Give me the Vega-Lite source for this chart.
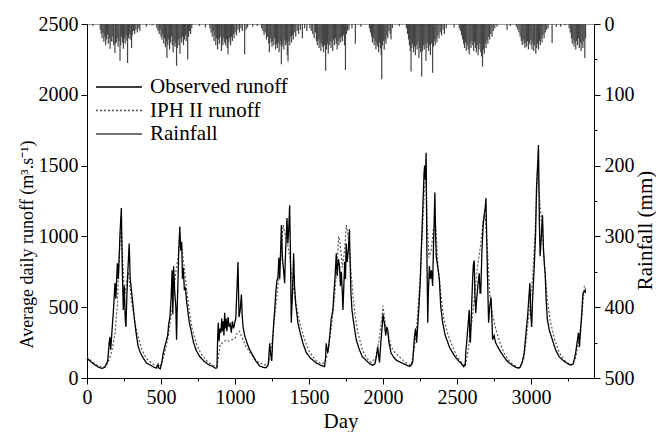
{
"$schema":"https://vega.github.io/schema/vega-lite/v6.json",
"width":507,"height":354,
"autosize":{"type":"none"},
"padding":{"left":87,"top":24,"right":62,"bottom":54},
"config":{"font":"Liberation Serif","view":{"stroke":"#999","strokeWidth":1},
"axis":{"domainColor":"#000","tickColor":"#000","labelColor":"#000","titleColor":"#000","labelFontSize":20,"titleFontSize":21,"titleFontWeight":"normal","grid":false,"labelFont":"Liberation Serif","titleFont":"Liberation Serif","format":"d"},
"legend":{"labelFont":"Liberation Serif","labelFontSize":21,"labelColor":"#000"}},
"datasets":{
"obs":[{"d":0,"v":140},{"d":20,"v":120},{"d":50,"v":95},{"d":80,"v":75},{"d":100,"v":68},{"d":120,"v":75},{"d":140,"v":120},{"d":150,"v":250},{"d":155,"v":290},{"d":160,"v":200},{"d":170,"v":350},{"d":180,"v":500},{"d":189,"v":670},{"d":195,"v":560},{"d":205,"v":810},{"d":212,"v":700},{"d":223,"v":1020},{"d":232,"v":1200},{"d":238,"v":800},{"d":245,"v":480},{"d":252,"v":650},{"d":258,"v":420},{"d":263,"v":360},{"d":270,"v":600},{"d":278,"v":800},{"d":285,"v":950},{"d":292,"v":700},{"d":300,"v":620},{"d":312,"v":500},{"d":320,"v":420},{"d":330,"v":330},{"d":346,"v":220},{"d":360,"v":180},{"d":380,"v":140},{"d":402,"v":106},{"d":430,"v":90},{"d":455,"v":75},{"d":470,"v":70},{"d":480,"v":95},{"d":485,"v":70},{"d":495,"v":65},{"d":505,"v":110},{"d":515,"v":175},{"d":525,"v":220},{"d":535,"v":260},{"d":545,"v":300},{"d":552,"v":380},{"d":560,"v":430},{"d":568,"v":560},{"d":575,"v":760},{"d":580,"v":450},{"d":585,"v":790},{"d":592,"v":620},{"d":600,"v":500},{"d":605,"v":270},{"d":610,"v":520},{"d":615,"v":700},{"d":620,"v":900},{"d":627,"v":1070},{"d":633,"v":900},{"d":640,"v":960},{"d":645,"v":700},{"d":650,"v":780},{"d":658,"v":620},{"d":665,"v":640},{"d":672,"v":550},{"d":680,"v":480},{"d":690,"v":400},{"d":706,"v":320},{"d":720,"v":250},{"d":740,"v":190},{"d":762,"v":150},{"d":790,"v":120},{"d":820,"v":95},{"d":852,"v":80},{"d":870,"v":68},{"d":878,"v":72},{"d":883,"v":300},{"d":887,"v":390},{"d":892,"v":260},{"d":898,"v":350},{"d":905,"v":320},{"d":910,"v":420},{"d":915,"v":330},{"d":920,"v":400},{"d":925,"v":300},{"d":930,"v":460},{"d":935,"v":350},{"d":940,"v":420},{"d":945,"v":330},{"d":953,"v":430},{"d":960,"v":360},{"d":968,"v":380},{"d":975,"v":320},{"d":982,"v":400},{"d":990,"v":350},{"d":998,"v":390},{"d":1005,"v":420},{"d":1012,"v":600},{"d":1020,"v":820},{"d":1024,"v":600},{"d":1027,"v":430},{"d":1035,"v":480},{"d":1043,"v":590},{"d":1048,"v":450},{"d":1054,"v":360},{"d":1065,"v":300},{"d":1080,"v":250},{"d":1099,"v":200},{"d":1120,"v":160},{"d":1140,"v":120},{"d":1166,"v":85},{"d":1190,"v":75},{"d":1210,"v":72},{"d":1225,"v":95},{"d":1234,"v":245},{"d":1240,"v":180},{"d":1248,"v":120},{"d":1255,"v":280},{"d":1262,"v":400},{"d":1268,"v":480},{"d":1275,"v":600},{"d":1282,"v":680},{"d":1290,"v":715},{"d":1296,"v":850},{"d":1302,"v":700},{"d":1308,"v":900},{"d":1313,"v":1080},{"d":1320,"v":850},{"d":1328,"v":760},{"d":1335,"v":670},{"d":1340,"v":850},{"d":1346,"v":1000},{"d":1351,"v":1130},{"d":1357,"v":950},{"d":1363,"v":1050},{"d":1369,"v":1220},{"d":1374,"v":900},{"d":1380,"v":390},{"d":1386,"v":550},{"d":1391,"v":700},{"d":1396,"v":880},{"d":1402,"v":650},{"d":1410,"v":520},{"d":1418,"v":450},{"d":1425,"v":390},{"d":1440,"v":320},{"d":1460,"v":240},{"d":1481,"v":180},{"d":1510,"v":140},{"d":1549,"v":106},{"d":1580,"v":90},{"d":1605,"v":80},{"d":1612,"v":150},{"d":1616,"v":245},{"d":1622,"v":200},{"d":1628,"v":180},{"d":1640,"v":300},{"d":1650,"v":420},{"d":1661,"v":480},{"d":1668,"v":600},{"d":1675,"v":700},{"d":1684,"v":880},{"d":1690,"v":720},{"d":1698,"v":840},{"d":1706,"v":790},{"d":1712,"v":650},{"d":1718,"v":750},{"d":1724,"v":620},{"d":1729,"v":480},{"d":1735,"v":650},{"d":1741,"v":820},{"d":1746,"v":700},{"d":1751,"v":950},{"d":1758,"v":820},{"d":1765,"v":900},{"d":1773,"v":1050},{"d":1778,"v":800},{"d":1783,"v":600},{"d":1790,"v":480},{"d":1800,"v":400},{"d":1810,"v":330},{"d":1819,"v":270},{"d":1840,"v":200},{"d":1860,"v":150},{"d":1886,"v":125},{"d":1910,"v":100},{"d":1931,"v":90},{"d":1945,"v":100},{"d":1955,"v":150},{"d":1964,"v":220},{"d":1970,"v":160},{"d":1976,"v":110},{"d":1985,"v":250},{"d":1995,"v":380},{"d":2000,"v":450},{"d":2003,"v":420},{"d":2010,"v":380},{"d":2018,"v":300},{"d":2025,"v":360},{"d":2032,"v":340},{"d":2040,"v":250},{"d":2054,"v":176},{"d":2070,"v":150},{"d":2090,"v":125},{"d":2110,"v":115},{"d":2140,"v":100},{"d":2178,"v":82},{"d":2190,"v":90},{"d":2200,"v":110},{"d":2206,"v":200},{"d":2212,"v":290},{"d":2220,"v":350},{"d":2227,"v":250},{"d":2235,"v":380},{"d":2245,"v":550},{"d":2252,"v":700},{"d":2258,"v":900},{"d":2265,"v":1100},{"d":2272,"v":1300},{"d":2277,"v":1450},{"d":2281,"v":1500},{"d":2286,"v":1400},{"d":2291,"v":1590},{"d":2296,"v":900},{"d":2302,"v":390},{"d":2306,"v":600},{"d":2313,"v":790},{"d":2320,"v":700},{"d":2327,"v":760},{"d":2335,"v":650},{"d":2340,"v":900},{"d":2345,"v":1100},{"d":2350,"v":1310},{"d":2355,"v":1000},{"d":2360,"v":850},{"d":2370,"v":780},{"d":2380,"v":700},{"d":2390,"v":500},{"d":2403,"v":390},{"d":2420,"v":300},{"d":2448,"v":220},{"d":2480,"v":160},{"d":2510,"v":120},{"d":2526,"v":106},{"d":2545,"v":80},{"d":2555,"v":100},{"d":2560,"v":200},{"d":2565,"v":250},{"d":2570,"v":320},{"d":2576,"v":400},{"d":2582,"v":480},{"d":2586,"v":300},{"d":2590,"v":250},{"d":2595,"v":400},{"d":2600,"v":550},{"d":2605,"v":700},{"d":2610,"v":800},{"d":2616,"v":830},{"d":2620,"v":600},{"d":2626,"v":460},{"d":2632,"v":550},{"d":2640,"v":650},{"d":2650,"v":740},{"d":2655,"v":600},{"d":2660,"v":600},{"d":2668,"v":900},{"d":2677,"v":1090},{"d":2683,"v":1150},{"d":2690,"v":1200},{"d":2695,"v":1270},{"d":2700,"v":1000},{"d":2706,"v":700},{"d":2713,"v":390},{"d":2720,"v":500},{"d":2729,"v":570},{"d":2735,"v":420},{"d":2740,"v":270},{"d":2750,"v":300},{"d":2760,"v":250},{"d":2785,"v":200},{"d":2810,"v":160},{"d":2830,"v":130},{"d":2852,"v":106},{"d":2880,"v":85},{"d":2908,"v":70},{"d":2925,"v":75},{"d":2940,"v":110},{"d":2953,"v":176},{"d":2960,"v":250},{"d":2968,"v":350},{"d":2976,"v":430},{"d":2984,"v":550},{"d":2992,"v":670},{"d":2998,"v":450},{"d":3004,"v":360},{"d":3010,"v":550},{"d":3021,"v":780},{"d":3030,"v":1000},{"d":3037,"v":1350},{"d":3044,"v":1500},{"d":3050,"v":1645},{"d":3056,"v":1100},{"d":3061,"v":860},{"d":3068,"v":980},{"d":3077,"v":1150},{"d":3084,"v":900},{"d":3090,"v":800},{"d":3095,"v":740},{"d":3102,"v":550},{"d":3110,"v":410},{"d":3125,"v":330},{"d":3144,"v":270},{"d":3165,"v":200},{"d":3190,"v":150},{"d":3220,"v":120},{"d":3250,"v":100},{"d":3268,"v":92},{"d":3285,"v":100},{"d":3300,"v":170},{"d":3313,"v":268},{"d":3320,"v":320},{"d":3327,"v":220},{"d":3335,"v":350},{"d":3342,"v":450},{"d":3348,"v":560},{"d":3351,"v":600},{"d":3358,"v":610},{"d":3365,"v":620},{"d":3368,"v":600}],
"iph":[{"d":0,"v":150},{"d":30,"v":120},{"d":60,"v":95},{"d":90,"v":80},{"d":110,"v":75},{"d":130,"v":85},{"d":150,"v":130},{"d":170,"v":200},{"d":190,"v":320},{"d":205,"v":520},{"d":215,"v":800},{"d":225,"v":1000},{"d":232,"v":1050},{"d":240,"v":850},{"d":250,"v":650},{"d":260,"v":600},{"d":270,"v":700},{"d":280,"v":750},{"d":290,"v":650},{"d":300,"v":550},{"d":315,"v":450},{"d":330,"v":360},{"d":350,"v":270},{"d":375,"v":190},{"d":400,"v":140},{"d":430,"v":110},{"d":460,"v":90},{"d":490,"v":80},{"d":510,"v":120},{"d":530,"v":200},{"d":550,"v":300},{"d":570,"v":450},{"d":585,"v":600},{"d":600,"v":750},{"d":615,"v":850},{"d":627,"v":1000},{"d":640,"v":920},{"d":655,"v":800},{"d":670,"v":650},{"d":690,"v":480},{"d":710,"v":350},{"d":740,"v":240},{"d":770,"v":170},{"d":810,"v":120},{"d":850,"v":90},{"d":880,"v":85},{"d":900,"v":240},{"d":920,"v":250},{"d":940,"v":270},{"d":960,"v":260},{"d":980,"v":270},{"d":1000,"v":280},{"d":1015,"v":320},{"d":1030,"v":330},{"d":1050,"v":280},{"d":1070,"v":230},{"d":1100,"v":180},{"d":1130,"v":140},{"d":1160,"v":110},{"d":1200,"v":90},{"d":1230,"v":110},{"d":1250,"v":250},{"d":1270,"v":450},{"d":1290,"v":650},{"d":1310,"v":850},{"d":1325,"v":1080},{"d":1340,"v":1000},{"d":1355,"v":950},{"d":1370,"v":850},{"d":1385,"v":700},{"d":1400,"v":600},{"d":1420,"v":480},{"d":1440,"v":380},{"d":1470,"v":270},{"d":1500,"v":190},{"d":1540,"v":130},{"d":1580,"v":100},{"d":1610,"v":110},{"d":1630,"v":200},{"d":1650,"v":350},{"d":1670,"v":550},{"d":1690,"v":800},{"d":1700,"v":1000},{"d":1710,"v":950},{"d":1725,"v":780},{"d":1740,"v":900},{"d":1752,"v":1080},{"d":1765,"v":1000},{"d":1780,"v":800},{"d":1795,"v":600},{"d":1810,"v":450},{"d":1830,"v":320},{"d":1860,"v":200},{"d":1890,"v":140},{"d":1920,"v":110},{"d":1950,"v":140},{"d":1970,"v":250},{"d":1990,"v":400},{"d":2000,"v":510},{"d":2015,"v":380},{"d":2035,"v":300},{"d":2055,"v":220},{"d":2080,"v":180},{"d":2110,"v":150},{"d":2140,"v":120},{"d":2170,"v":100},{"d":2190,"v":90},{"d":2210,"v":200},{"d":2230,"v":400},{"d":2250,"v":700},{"d":2265,"v":1000},{"d":2278,"v":1300},{"d":2288,"v":1450},{"d":2298,"v":1100},{"d":2310,"v":850},{"d":2325,"v":900},{"d":2340,"v":1050},{"d":2355,"v":1100},{"d":2370,"v":800},{"d":2390,"v":600},{"d":2410,"v":420},{"d":2440,"v":300},{"d":2470,"v":220},{"d":2500,"v":150},{"d":2530,"v":110},{"d":2555,"v":80},{"d":2575,"v":200},{"d":2600,"v":400},{"d":2620,"v":600},{"d":2640,"v":800},{"d":2660,"v":950},{"d":2675,"v":1100},{"d":2690,"v":1150},{"d":2705,"v":900},{"d":2720,"v":600},{"d":2740,"v":450},{"d":2760,"v":350},{"d":2790,"v":250},{"d":2820,"v":170},{"d":2860,"v":110},{"d":2900,"v":80},{"d":2920,"v":70},{"d":2950,"v":130},{"d":2970,"v":300},{"d":2990,"v":500},{"d":3010,"v":700},{"d":3030,"v":1100},{"d":3045,"v":1500},{"d":3058,"v":1250},{"d":3075,"v":1050},{"d":3090,"v":800},{"d":3110,"v":550},{"d":3130,"v":400},{"d":3160,"v":270},{"d":3190,"v":180},{"d":3230,"v":120},{"d":3270,"v":90},{"d":3300,"v":140},{"d":3320,"v":250},{"d":3340,"v":400},{"d":3360,"v":650},{"d":3368,"v":630}],
"rain":[{"d":40,"r":3},{"d":90,"r":8},{"d":96,"r":14},{"d":102,"r":20},{"d":108,"r":12},{"d":114,"r":25},{"d":120,"r":18},{"d":126,"r":30},{"d":132,"r":22},{"d":138,"r":15},{"d":144,"r":28},{"d":150,"r":20},{"d":156,"r":35},{"d":162,"r":24},{"d":168,"r":25},{"d":174,"r":18},{"d":180,"r":30},{"d":189,"r":41},{"d":192,"r":28},{"d":198,"r":26},{"d":204,"r":20},{"d":210,"r":32},{"d":216,"r":24},{"d":223,"r":52},{"d":228,"r":30},{"d":234,"r":18},{"d":240,"r":26},{"d":246,"r":35},{"d":252,"r":20},{"d":258,"r":28},{"d":264,"r":16},{"d":270,"r":24},{"d":274,"r":55},{"d":280,"r":20},{"d":286,"r":14},{"d":292,"r":22},{"d":301,"r":34},{"d":306,"r":16},{"d":314,"r":10},{"d":322,"r":14},{"d":330,"r":8},{"d":340,"r":12},{"d":350,"r":6},{"d":357,"r":10},{"d":400,"r":4},{"d":440,"r":2},
{"d":472,"r":6},{"d":480,"r":10},{"d":488,"r":14},{"d":494,"r":8},{"d":500,"r":18},{"d":506,"r":22},{"d":512,"r":15},{"d":518,"r":28},{"d":524,"r":20},{"d":530,"r":33},{"d":536,"r":24},{"d":540,"r":48},{"d":546,"r":30},{"d":552,"r":22},{"d":558,"r":36},{"d":564,"r":26},{"d":570,"r":18},{"d":576,"r":30},{"d":582,"r":40},{"d":588,"r":24},{"d":594,"r":32},{"d":600,"r":28},{"d":605,"r":59},{"d":610,"r":34},{"d":616,"r":22},{"d":622,"r":30},{"d":628,"r":42},{"d":634,"r":20},{"d":640,"r":26},{"d":646,"r":18},{"d":652,"r":30},{"d":658,"r":22},{"d":664,"r":16},{"d":670,"r":24},{"d":676,"r":14},{"d":680,"r":50},{"d":686,"r":18},{"d":692,"r":10},{"d":700,"r":14},{"d":708,"r":6},{"d":760,"r":3},{"d":800,"r":5},
{"d":830,"r":6},{"d":838,"r":12},{"d":846,"r":18},{"d":852,"r":10},{"d":858,"r":24},{"d":864,"r":16},{"d":870,"r":30},{"d":876,"r":20},{"d":882,"r":36},{"d":888,"r":22},{"d":894,"r":28},{"d":900,"r":18},{"d":908,"r":38},{"d":912,"r":24},{"d":918,"r":30},{"d":924,"r":20},{"d":930,"r":26},{"d":936,"r":30},{"d":942,"r":22},{"d":948,"r":34},{"d":953,"r":43},{"d":958,"r":26},{"d":964,"r":20},{"d":970,"r":30},{"d":976,"r":18},{"d":982,"r":24},{"d":988,"r":14},{"d":994,"r":20},{"d":1000,"r":12},{"d":1010,"r":16},{"d":1020,"r":8},{"d":1030,"r":12},{"d":1040,"r":6},{"d":1050,"r":10},{"d":1065,"r":43},{"d":1075,"r":8},{"d":1085,"r":5},{"d":1120,"r":4},{"d":1150,"r":3},
{"d":1180,"r":6},{"d":1188,"r":10},{"d":1196,"r":16},{"d":1204,"r":12},{"d":1212,"r":22},{"d":1220,"r":18},{"d":1228,"r":28},{"d":1232,"r":40},{"d":1238,"r":20},{"d":1244,"r":26},{"d":1250,"r":32},{"d":1256,"r":24},{"d":1262,"r":30},{"d":1268,"r":20},{"d":1274,"r":36},{"d":1280,"r":28},{"d":1286,"r":34},{"d":1292,"r":26},{"d":1298,"r":40},{"d":1304,"r":30},{"d":1310,"r":24},{"d":1313,"r":57},{"d":1318,"r":32},{"d":1324,"r":28},{"d":1330,"r":36},{"d":1336,"r":22},{"d":1342,"r":30},{"d":1348,"r":26},{"d":1353,"r":44},{"d":1358,"r":53},{"d":1364,"r":24},{"d":1370,"r":30},{"d":1376,"r":18},{"d":1382,"r":26},{"d":1388,"r":16},{"d":1394,"r":22},{"d":1400,"r":12},{"d":1410,"r":18},{"d":1420,"r":10},{"d":1430,"r":14},{"d":1442,"r":8},{"d":1455,"r":20},{"d":1470,"r":6},{"d":1485,"r":10},
{"d":1505,"r":6},{"d":1515,"r":10},{"d":1525,"r":14},{"d":1535,"r":20},{"d":1543,"r":12},{"d":1550,"r":24},{"d":1556,"r":30},{"d":1562,"r":22},{"d":1568,"r":34},{"d":1574,"r":26},{"d":1580,"r":38},{"d":1586,"r":28},{"d":1592,"r":32},{"d":1598,"r":40},{"d":1604,"r":30},{"d":1612,"r":66},{"d":1618,"r":36},{"d":1624,"r":28},{"d":1630,"r":42},{"d":1636,"r":30},{"d":1642,"r":24},{"d":1648,"r":34},{"d":1654,"r":26},{"d":1660,"r":38},{"d":1666,"r":22},{"d":1672,"r":30},{"d":1678,"r":20},{"d":1684,"r":28},{"d":1690,"r":36},{"d":1696,"r":24},{"d":1702,"r":30},{"d":1708,"r":20},{"d":1714,"r":26},{"d":1720,"r":18},{"d":1726,"r":24},{"d":1732,"r":16},{"d":1740,"r":30},{"d":1746,"r":65},{"d":1752,"r":14},{"d":1760,"r":10},{"d":1770,"r":8},{"d":1790,"r":6},{"d":1813,"r":28},{"d":1850,"r":4},
{"d":1908,"r":6},{"d":1915,"r":12},{"d":1922,"r":18},{"d":1928,"r":26},{"d":1934,"r":20},{"d":1940,"r":30},{"d":1946,"r":24},{"d":1952,"r":36},{"d":1958,"r":28},{"d":1964,"r":32},{"d":1970,"r":40},{"d":1976,"r":26},{"d":1982,"r":34},{"d":1987,"r":44},{"d":1991,"r":78},{"d":1996,"r":30},{"d":2002,"r":24},{"d":2008,"r":36},{"d":2014,"r":22},{"d":2020,"r":28},{"d":2026,"r":16},{"d":2032,"r":20},{"d":2040,"r":10},{"d":2048,"r":14},{"d":2054,"r":22},{"d":2063,"r":6},{"d":2110,"r":3},
{"d":2158,"r":6},{"d":2165,"r":14},{"d":2172,"r":22},{"d":2178,"r":30},{"d":2184,"r":38},{"d":2189,"r":67},{"d":2194,"r":34},{"d":2200,"r":28},{"d":2206,"r":40},{"d":2212,"r":32},{"d":2218,"r":44},{"d":2224,"r":30},{"d":2230,"r":36},{"d":2236,"r":26},{"d":2242,"r":48},{"d":2248,"r":34},{"d":2254,"r":40},{"d":2261,"r":74},{"d":2266,"r":38},{"d":2272,"r":30},{"d":2278,"r":36},{"d":2284,"r":28},{"d":2290,"r":52},{"d":2296,"r":34},{"d":2302,"r":26},{"d":2308,"r":38},{"d":2314,"r":30},{"d":2320,"r":44},{"d":2326,"r":28},{"d":2335,"r":69},{"d":2340,"r":32},{"d":2346,"r":24},{"d":2352,"r":30},{"d":2358,"r":20},{"d":2364,"r":26},{"d":2370,"r":16},{"d":2378,"r":20},{"d":2386,"r":12},{"d":2395,"r":16},{"d":2405,"r":8},{"d":2414,"r":14},{"d":2427,"r":6},{"d":2480,"r":5},
{"d":2515,"r":6},{"d":2522,"r":10},{"d":2530,"r":16},{"d":2537,"r":22},{"d":2544,"r":28},{"d":2550,"r":34},{"d":2556,"r":26},{"d":2562,"r":38},{"d":2568,"r":30},{"d":2575,"r":36},{"d":2582,"r":43},{"d":2588,"r":28},{"d":2594,"r":34},{"d":2600,"r":24},{"d":2606,"r":30},{"d":2612,"r":38},{"d":2618,"r":26},{"d":2624,"r":34},{"d":2630,"r":40},{"d":2636,"r":30},{"d":2642,"r":44},{"d":2648,"r":36},{"d":2654,"r":28},{"d":2660,"r":40},{"d":2666,"r":46},{"d":2672,"r":60},{"d":2678,"r":36},{"d":2684,"r":42},{"d":2690,"r":28},{"d":2696,"r":34},{"d":2702,"r":22},{"d":2708,"r":28},{"d":2714,"r":18},{"d":2720,"r":22},{"d":2728,"r":14},{"d":2736,"r":18},{"d":2745,"r":10},{"d":2755,"r":6},{"d":2770,"r":4},{"d":2838,"r":8},{"d":2860,"r":3},
{"d":2900,"r":4},{"d":2910,"r":8},{"d":2918,"r":12},{"d":2926,"r":18},{"d":2934,"r":24},{"d":2940,"r":30},{"d":2946,"r":22},{"d":2952,"r":28},{"d":2958,"r":34},{"d":2964,"r":26},{"d":2970,"r":32},{"d":2976,"r":24},{"d":2982,"r":36},{"d":2988,"r":28},{"d":2994,"r":22},{"d":3000,"r":30},{"d":3006,"r":36},{"d":3012,"r":26},{"d":3018,"r":38},{"d":3024,"r":30},{"d":3032,"r":42},{"d":3038,"r":34},{"d":3044,"r":28},{"d":3050,"r":36},{"d":3056,"r":24},{"d":3062,"r":30},{"d":3068,"r":20},{"d":3074,"r":26},{"d":3080,"r":16},{"d":3088,"r":20},{"d":3096,"r":12},{"d":3105,"r":8},{"d":3115,"r":6},{"d":3142,"r":27},{"d":3170,"r":4},{"d":3200,"r":4},{"d":3230,"r":2},
{"d":3257,"r":6},{"d":3265,"r":12},{"d":3272,"r":20},{"d":3278,"r":28},{"d":3284,"r":22},{"d":3290,"r":32},{"d":3296,"r":26},{"d":3302,"r":36},{"d":3308,"r":24},{"d":3314,"r":30},{"d":3320,"r":20},{"d":3326,"r":34},{"d":3332,"r":26},{"d":3338,"r":38},{"d":3344,"r":28},{"d":3350,"r":34},{"d":3356,"r":24},{"d":3363,"r":48},{"d":3368,"r":20}]
},
"encoding":{
"x":{"field":"d","type":"quantitative","scale":{"domain":[0,3425],"nice":false,"zero":false},
"axis":{"title":"Day","values":[0,250,500,750,1000,1250,1500,1750,2000,2250,2500,2750,3000,3250],"labelExpr":"datum.value % 500 === 0 ? datum.label : ''","tickSize":{"condition":{"test":"datum.value % 500 === 0","value":6},"value":3},"labelPadding":3,"titlePadding":3,"labelFlush":false}}
},
"layer":[
{"layer":[
{"data":{"name":"iph"},"mark":{"type":"line","strokeWidth":1.2,"interpolate":"linear"},
"encoding":{"y":{"field":"v","type":"quantitative","scale":{"domain":[0,2500],"nice":false},
"axis":{"title":"Average daily runoff (m³.s⁻¹)","titleFontSize":18,"titleY":220,"values":[0,250,500,750,1000,1250,1500,1750,2000,2250,2500],"labelExpr":"datum.value % 500 === 0 ? datum.label : ''","tickSize":{"condition":{"test":"datum.value % 500 === 0","value":6},"value":3},"titlePadding":2,"labelPadding":3}},
"color":{"datum":"IPH II runoff","type":"nominal","scale":{"domain":["Observed runoff","IPH II runoff","Rainfall"],"range":["#000000","#555555","#444444"]},
"legend":{"title":null,"orient":"none","legendX":21,"legendY":52,"symbolType":"M-2.3,0H2.3","symbolSize":400,"symbolStrokeWidth":1.4,"symbolFillColor":"transparent","labelOffset":20,"rowPadding":2.5,"symbolOpacity":1}},
"strokeDash":{"datum":"IPH II runoff","type":"nominal","scale":{"domain":["Observed runoff","IPH II runoff","Rainfall"],"range":[[1,0],[2,2],[1,0]]},"legend":null}}},
{"data":{"name":"obs"},"mark":{"type":"line","strokeWidth":1.3},
"encoding":{"y":{"field":"v","type":"quantitative"},
"color":{"datum":"Observed runoff","type":"nominal"},
"strokeDash":{"datum":"Observed runoff","type":"nominal"}}},
{"data":{"values":[{}]},"mark":{"type":"rule","color":"#666666","strokeWidth":1},
"encoding":{"x":{"datum":2095,"type":"quantitative"},"y":{"datum":40,"type":"quantitative"},"y2":{"datum":2500}}},
{"data":{"values":[{}]},"mark":{"type":"text","fontSize":20,"font":"Liberation Serif","align":"center","baseline":"middle","color":"#000"},
"encoding":{"x":{"datum":1730,"type":"quantitative"},"y":{"datum":1744,"type":"quantitative"},"text":{"value":"Calibration"}}},
{"data":{"values":[{}]},"mark":{"type":"text","fontSize":20,"font":"Liberation Serif","align":"left","baseline":"middle","color":"#000"},
"encoding":{"x":{"datum":2185,"type":"quantitative"},"y":{"datum":1744,"type":"quantitative"},"text":{"value":"Validation"}}}
]},
{"data":{"name":"rain"},"mark":{"type":"rule","strokeWidth":1.2},
"encoding":{"y":{"field":"r","type":"quantitative","scale":{"domain":[0,500],"reverse":true,"nice":false},
"axis":{"orient":"right","title":"Rainfall (mm)","titleAngle":270,"titleBaseline":"top","titleY":206,"values":[0,50,100,150,200,250,300,350,400,450,500],"labelExpr":"datum.value % 100 === 0 ? datum.label : ''","tickSize":{"condition":{"test":"datum.value % 100 === 0","value":6},"value":3},"titlePadding":0,"labelPadding":4}},
"y2":{"datum":0},
"color":{"datum":"Rainfall","type":"nominal"},
"strokeDash":{"datum":"Rainfall","type":"nominal"}}}
],
"resolve":{"scale":{"y":"independent"}}
}
